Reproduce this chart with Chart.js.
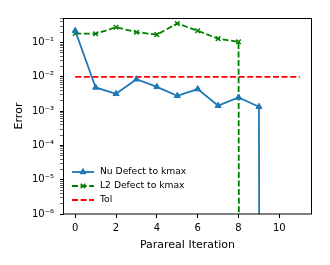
<!DOCTYPE html>
<html>
<head>
<meta charset="utf-8">
<script src="https://cdn.jsdelivr.net/npm/chart.js@4"></script>
<style>
html, body { margin: 0; padding: 0; background: #fff; }
</style>
</head>
<body>
<canvas id="chart" width="330" height="265"></canvas>
<script>
// values
const iterations = [0, 1, 2, 3, 4, 5, 6, 7, 8, 9, 10, 11];
const nuDefect = [0.22, 0.0049, 0.0032, 0.0085, 0.0051, 0.0028, 0.0044, 0.00144, 0.0025, 0.00134, 0, 0];
const l2Defect = [0.184, 0.18, 0.28, 0.2, 0.17, 0.36, 0.22, 0.13, 0.105, 0, 0, 0];
const tolX = [0, 11];
const tolY = [0.01, 0.01];
const xTicks = [0, 2, 4, 6, 8, 10];
const yTickExps = [-6, -5, -4, -3, -2, -1];

const TICK_FONT = { family: 'DejaVu Sans', size: 10 };
const LABEL_FONT = { family: 'DejaVu Sans', size: 11 };
const sup = { '-': '\u207B', '0': '\u2070', '1': '\u00B9', '2': '\u00B2', '3': '\u00B3',
    '4': '\u2074', '5': '\u2075', '6': '\u2076', '7': '\u2077', '8': '\u2078', '9': '\u2079' };
const expLabel = e => '10' + String(e).split('').map(c => sup[c]).join('');

// zeros on a log axis: clip to a tiny number like matplotlib does, so the line drops straight down
const toPoints = (xs, ys) => xs.map((x, i) => ({ x: x, y: ys[i] > 0 ? ys[i] : 1e-300 }));

const frame = {
    id: 'frame',
    afterDraw(chart) {
        const a = chart.chartArea, ctx = chart.ctx;
        ctx.save();
        ctx.strokeStyle = '#000';
        ctx.lineWidth = 1;
        ctx.strokeRect(Math.round(a.left) - 0.5, Math.round(a.top) + 0.5,
            Math.round(a.right - a.left) + 1, Math.round(a.bottom - a.top) - 0.5);
        ctx.restore();
    }
};

// matplotlib-style legend in the lower left of the axes
const legendBox = {
    id: 'legendBox',
    afterDraw(chart) {
        const ctx = chart.ctx, a = chart.chartArea;
        const x0 = a.left + 8, x1 = a.left + 30, tx = a.left + 36;
        let y = a.bottom - 42;
        ctx.save();
        chart.data.datasets.forEach(ds => {
            ctx.strokeStyle = ds.borderColor;
            ctx.lineWidth = ds.borderWidth;
            ctx.setLineDash(ds.borderDash || []);
            ctx.beginPath();
            ctx.moveTo(x0, y);
            ctx.lineTo(x1, y);
            ctx.stroke();
            ctx.setLineDash([]);
            if (ds.pointRadius > 0) {
                ctx.fillStyle = ds.pointBackgroundColor;
                ctx.strokeStyle = ds.pointBorderColor;
                ctx.lineWidth = ds.pointBorderWidth;
                Chart.helpers.drawPoint(ctx, { pointStyle: ds.pointStyle, radius: ds.pointRadius, borderWidth: ds.pointBorderWidth, rotation: 0 }, (x0 + x1) / 2, y);
            }
            ctx.fillStyle = '#000';
            ctx.font = '9.2px "DejaVu Sans"';
            ctx.textBaseline = 'middle';
            ctx.fillText(ds.label, tx, y);
            y += 14;
        });
        ctx.restore();
    }
};

new Chart(document.getElementById('chart'), {
    type: 'line',
    data: {
        datasets: [{
            label: 'Nu Defect to kmax',
            data: toPoints(iterations, nuDefect),
            borderColor: '#1f77b4',
            borderWidth: 1.8,
            pointStyle: 'triangle',
            pointRadius: 3.5,
            pointBackgroundColor: '#1f77b4',
            pointBorderColor: '#1f77b4',
            pointBorderWidth: 1
        }, {
            label: 'L2 Defect to kmax',
            data: toPoints(iterations, l2Defect),
            borderColor: '#008000',
            borderWidth: 1.8,
            borderDash: [6, 2.6],
            pointStyle: 'crossRot',
            pointRadius: 3.2,
            pointBackgroundColor: '#008000',
            pointBorderColor: '#008000',
            pointBorderWidth: 1.5
        }, {
            label: 'Tol',
            data: toPoints(tolX, tolY),
            borderColor: '#ff0000',
            borderWidth: 1.8,
            borderDash: [6, 2.6],
            pointRadius: 0
        }]
    },
    options: {
        responsive: false,
        animation: false,
        events: [],
        layout: { padding: { top: 18, right: 19, left: 0, bottom: 0 } },
        plugins: { legend: { display: false }, tooltip: { enabled: false } },
        scales: {
            x: {
                type: 'linear',
                min: -0.55,
                max: 11.55,
                afterBuildTicks: s => { s.ticks = xTicks.map(v => ({ value: v })); },
                afterFit: s => { s.height = 51; },
                border: { display: false },
                grid: { drawOnChartArea: false, tickLength: 4, tickColor: '#000' },
                ticks: { color: '#000', font: TICK_FONT, padding: 4, maxRotation: 0, autoSkip: false },
                title: { display: true, text: 'Parareal Iteration', color: '#000', font: LABEL_FONT, padding: { top: 4, bottom: 13 } }
            },
            y: {
                type: 'logarithmic',
                min: 1e-6,
                max: 0.52,
                afterBuildTicks: s => {
                    const t = [];
                    yTickExps.forEach(e => {
                        for (let k = 1; k <= 9; k++) {
                            const v = k * Math.pow(10, e);
                            if (v <= s.max) t.push({ value: v, major: k === 1 });
                        }
                    });
                    s.ticks = t;
                },
                afterFit: s => { s.width = 64; },
                border: { display: false },
                grid: {
                    drawOnChartArea: false,
                    tickLength: 4,
                    tickColor: '#000',
                    tickWidth: c => (c.tick && c.tick.major ? 1 : 0.6)
                },
                ticks: {
                    color: '#000',
                    font: TICK_FONT,
                    padding: 6,
                    autoSkip: false,
                    callback: function (v, i, ticks) {
                        return ticks[i].major ? expLabel(Math.round(Math.log10(v))) : '';
                    }
                },
                title: { display: true, text: 'Error', color: '#000', font: LABEL_FONT, padding: { top: 13, bottom: 0 } }
            }
        }
    },
    plugins: [frame, legendBox]
});
</script>
</body>
</html>
